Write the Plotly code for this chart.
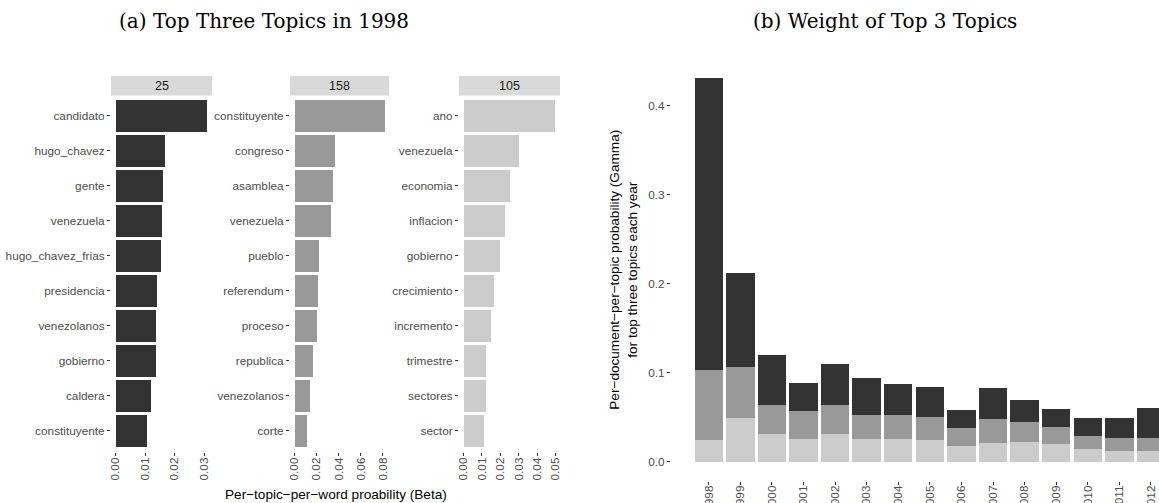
import plotly.graph_objects as go

W, H = 1159, 503

# ---- Data: panel (a) ----
topics = ["25", "158", "105"]
topic_colors = ["#333333", "#999999", "#cccccc"]

terms_25 = ["candidato", "hugo_chavez", "gente", "venezuela", "hugo_chavez_frias",
            "presidencia", "venezolanos", "gobierno", "caldera", "constituyente"]
beta_25 = [0.0311, 0.0166, 0.0159, 0.0156, 0.0153, 0.0139, 0.0136, 0.0136, 0.0119, 0.0105]

terms_158 = ["constituyente", "congreso", "asamblea", "venezuela", "pueblo",
             "referendum", "proceso", "republica", "venezolanos", "corte"]
beta_158 = [0.0814, 0.0363, 0.0345, 0.0327, 0.0221, 0.0212, 0.0204, 0.0168, 0.0142, 0.0115]

terms_105 = ["ano", "venezuela", "economia", "inflacion", "gobierno",
             "crecimiento", "incremento", "trimestre", "sectores", "sector"]
beta_105 = [0.0500, 0.0304, 0.0250, 0.0223, 0.0196, 0.0163, 0.0147, 0.0120, 0.0120, 0.0109]

# ---- Data: panel (b) ----
years = [str(y) for y in range(1998, 2013)]
gamma_105 = [0.0244, 0.0491, 0.0311, 0.0255, 0.0311, 0.0255, 0.0255, 0.0244, 0.0176, 0.0210,
             0.0221, 0.0199, 0.0143, 0.0120, 0.0120]
gamma_158 = [0.0786, 0.0573, 0.0326, 0.0315, 0.0326, 0.0270, 0.0270, 0.0258, 0.0203, 0.0270,
             0.0225, 0.0191, 0.0146, 0.0146, 0.0146]
gamma_25 = [0.3285, 0.1060, 0.0562, 0.0314, 0.0461, 0.0415, 0.0348, 0.0337, 0.0202, 0.0348,
            0.0247, 0.0202, 0.0202, 0.0225, 0.0337]

FONT = "Liberation Sans"
TICKC = "#4d4d4d"
TSIZE = 11.8

fig = go.Figure()

panels = [(terms_25, beta_25, 0.01), (terms_158, beta_158, 0.02), (terms_105, beta_105, 0.01)]
xdoms_px = [(111, 212), (290, 389), (459, 560)]
ydom = [1 - 451.8 / H, 1 - 95.0 / H]

for i, (terms, vals, dt) in enumerate(panels):
    n = i + 1
    xa = "x" if n == 1 else f"x{n}"
    ya = "y" if n == 1 else f"y{n}"
    fig.add_trace(go.Bar(x=vals, y=terms, orientation="h", xaxis=xa, yaxis=ya,
                         marker=dict(color=topic_colors[i], line=dict(width=0)),
                         showlegend=False, name=topics[i]))
    mx = max(vals)
    ticks = []
    t = 0.0
    while t <= mx * 1.05 + 1e-9:
        ticks.append(round(t, 4))
        t += dt
    d0, d1 = xdoms_px[i]
    fig.update_layout(**{
        ("xaxis" if n == 1 else f"xaxis{n}"): dict(
            domain=[d0 / W, d1 / W], anchor=ya, range=[-0.05 * mx, 1.05 * mx],
            tickvals=ticks, ticktext=[f"{v:.2f}" for v in ticks], tickangle=-90,
            ticks="outside", ticklen=3, tickcolor="#333333", tickwidth=1,
            ticklabelstandoff=-3,
            tickfont=dict(family=FONT, size=TSIZE, color=TICKC),
            showgrid=False, zeroline=False, showline=False, automargin=False),
        ("yaxis" if n == 1 else f"yaxis{n}"): dict(
            domain=ydom, anchor=xa, type="category", categoryorder="array",
            categoryarray=terms, range=[len(terms) - 1 + 0.6, -0.6],
            ticks="outside", ticklen=3, tickcolor="#333333", tickwidth=1,
            tickfont=dict(family=FONT, size=TSIZE, color=TICKC),
            showgrid=False, zeroline=False, showline=False, automargin=False),
    })
    # strip
    fig.add_shape(type="rect", xref="paper", yref="paper",
                  x0=d0 / W, x1=d1 / W, y0=1 - 95.5 / H, y1=1 - 76 / H,
                  fillcolor="#d9d9d9", line=dict(width=0), layer="below")
    fig.add_annotation(xref="paper", yref="paper", x=(d0 + d1) / 2 / W, y=1 - 86 / H,
                       text=topics[i], showarrow=False, xanchor="center", yanchor="middle",
                       font=dict(family=FONT, size=12.5, color="#1a1a1a"))

# panel (b): stacked bars
for name, vals, col in [("105", gamma_105, "#cccccc"), ("158", gamma_158, "#999999"),
                        ("25", gamma_25, "#333333")]:
    fig.add_trace(go.Bar(x=years, y=vals, xaxis="x4", yaxis="y4", name=name,
                         marker=dict(color=col, line=dict(width=0)), showlegend=False))

ymin, ymax = -0.0216, 0.453
fig.update_layout(
    xaxis4=dict(domain=[671 / W, 1.0], anchor="y4", type="category",
                range=[-1.195, 14.256], tickangle=-90,
                ticks="outside", ticklen=3, tickcolor="#333333", tickwidth=1,
                ticklabelstandoff=-4,
                tickfont=dict(family=FONT, size=TSIZE, color=TICKC),
                showgrid=False, zeroline=False, showline=False, automargin=False),
    yaxis4=dict(domain=[1 - 480.8 / H, 1 - 58.5 / H], anchor="x4", range=[ymin, ymax],
                tickvals=[0, 0.1, 0.2, 0.3, 0.4], ticktext=["0.0", "0.1", "0.2", "0.3", "0.4"],
                ticks="outside", ticklen=3, tickcolor="#333333", tickwidth=1,
                tickfont=dict(family=FONT, size=TSIZE, color=TICKC),
                showgrid=False, zeroline=False, showline=False, automargin=False),
)

# axis titles
fig.add_annotation(xref="paper", yref="paper", x=335.5 / W, y=1 - 494 / H,
                   text="Per−topic−per−word proability (Beta)", showarrow=False,
                   xanchor="center", yanchor="middle",
                   font=dict(family=FONT, size=13.6, color="#000000"))
fig.add_annotation(xref="paper", yref="paper", x=624 / W, y=1 - 269.7 / H,
                   text="Per−document−per−topic probability (Gamma)<br>for top three topics each year",
                   showarrow=False, textangle=-90, xanchor="center", yanchor="middle",
                   font=dict(family=FONT, size=13.6, color="#000000"))

# sub-figure captions
fig.add_annotation(xref="paper", yref="paper", x=264 / W, y=1 - 21 / H,
                   text="(a) Top Three Topics in 1998", showarrow=False,
                   xanchor="center", yanchor="middle",
                   font=dict(family="DejaVu Serif", size=20, color="#000000"))
fig.add_annotation(xref="paper", yref="paper", x=885 / W, y=1 - 21 / H,
                   text="(b) Weight of Top 3 Topics", showarrow=False,
                   xanchor="center", yanchor="middle",
                   font=dict(family="DejaVu Serif", size=20, color="#000000"))

fig.update_layout(width=W, height=H, margin=dict(l=0, r=0, t=0, b=0, autoexpand=False),
                  barmode="stack", bargap=0.1, plot_bgcolor="white", paper_bgcolor="white")

fig.write_html("out.html")
